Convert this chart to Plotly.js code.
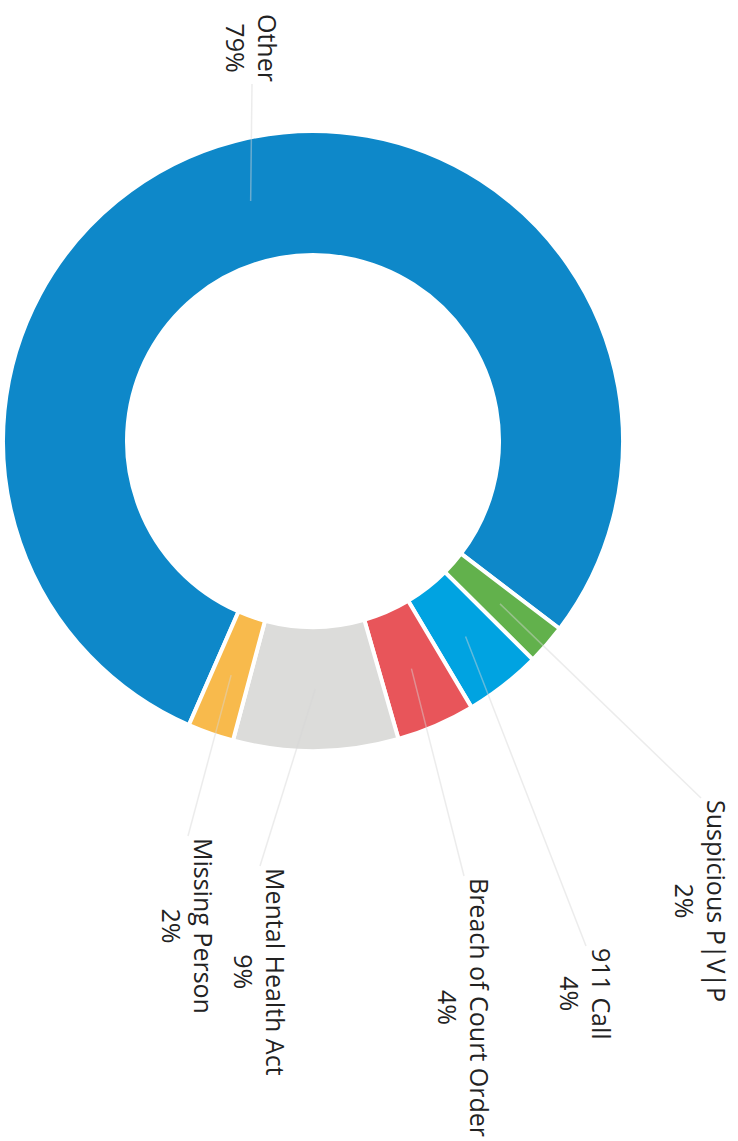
<!DOCTYPE html>
<html>
<head>
<meta charset="utf-8">
<script src="https://cdn.plot.ly/plotly-3.0.1.min.js"></script>
<style>
html, body { margin:0; padding:0; background:#ffffff; overflow:hidden; width:738px; height:1141px; }
#wrap { position:absolute; left:0; top:0; width:1141px; height:738px;
        transform-origin:0 0; transform:translate(738px,0) rotate(90deg); }
</style>
</head>
<body>
<div id="wrap"><div id="chart" style="width:1141px;height:738px"></div></div>
<script>
// ---- data ----
const categories = ['Other', 'Suspicious P|V|P', '911 Call', 'Breach of Court Order', 'Mental Health Act', 'Missing Person'];
const shares = [78.8, 2.1, 4.0, 4.1, 8.6, 2.4];

// ---- styles ----
const sliceColors = ['#0E88C9', '#62B14C', '#00A3E1', '#E8555A', '#DCDCDA', '#F8BA4C'];

// ---- label placement (chart drawn in landscape, then the page turns it a quarter turn) ----
const labelTailX = [84, 798, 946, 876, 866, 836];
const labelTailY = [486, 37, 152, 274, 478, 550];
const labelSide  = ['right', 'left', 'left', 'left', 'left', 'left'];

const W = 1141, H = 738;
const CX = 441, CY = 425, R = 310, HOLE = 0.6, ROT = 113.6;

const total = shares.reduce((a, b) => a + b, 0);
let cum = 0;
const annotations = shares.map((v, i) => {
  const ang = (ROT + (cum + v / 2) / total * 360) * Math.PI / 180;
  cum += v;
  const rr = R * (1 + HOLE) / 2;
  const px = CX + rr * Math.sin(ang);
  const py = CY - rr * Math.cos(ang);
  return {
    xref: 'paper', yref: 'paper',
    x: px / W, y: 1 - py / H,
    ax: labelTailX[i] - px, ay: labelTailY[i] - py,
    showarrow: true, arrowhead: 0, arrowwidth: 1.5,
    arrowcolor: 'rgba(215,215,215,0.45)',
    standoff: 0, startstandoff: 0,
    xanchor: labelSide[i], yanchor: 'middle', align: 'center',
    text: categories[i] + '<br>' + Math.round(v / total * 100) + '%',
    font: { family: 'Open Sans, sans-serif', size: 25, color: '#222222' }
  };
});

const trace = {
  type: 'pie',
  labels: categories,
  values: shares,
  hole: HOLE,
  sort: false,
  direction: 'clockwise',
  rotation: ROT,
  marker: { colors: sliceColors, line: { color: '#ffffff', width: 4 } },
  textinfo: 'none',
  hoverinfo: 'none',
  showlegend: false,
  domain: { x: [(CX - R) / W, (CX + R) / W], y: [(H - CY - R) / H, (H - CY + R) / H] }
};

Plotly.newPlot('chart', [trace], {
  width: W, height: H,
  margin: { l: 0, r: 0, t: 0, b: 0 },
  paper_bgcolor: '#ffffff',
  plot_bgcolor: '#ffffff',
  showlegend: false,
  annotations: annotations
}, { staticPlot: true, displayModeBar: false });
</script>
</body>
</html>
